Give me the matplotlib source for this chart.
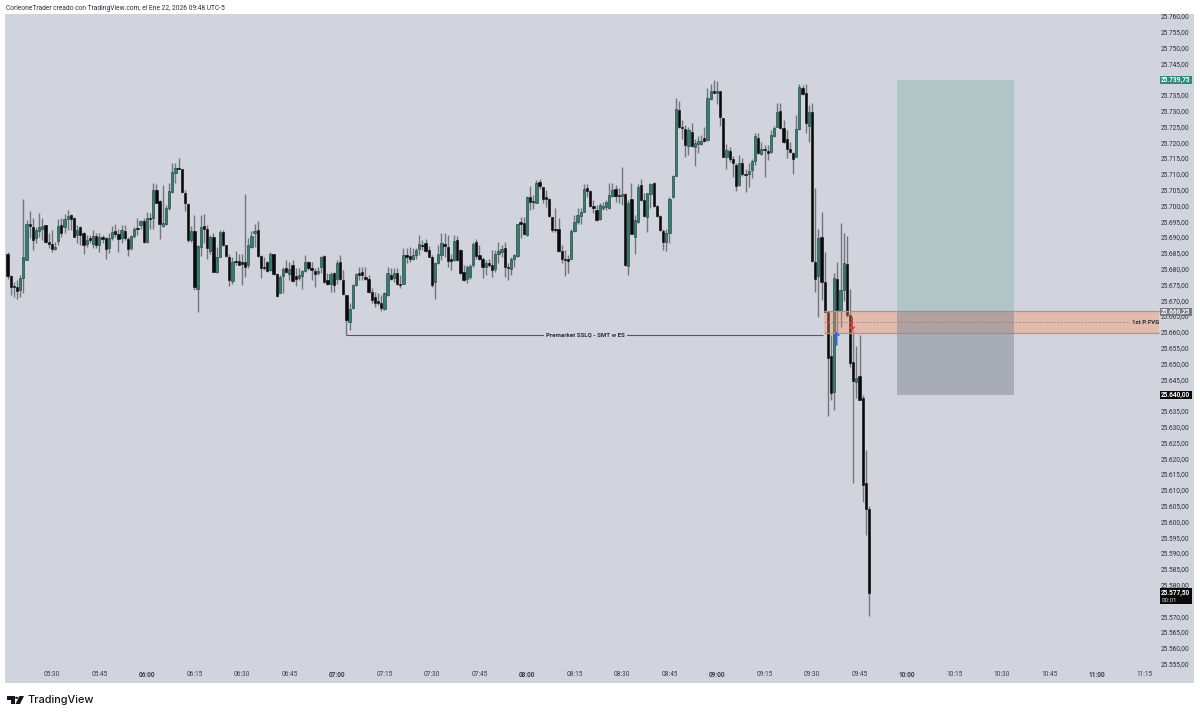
import numpy as np
import matplotlib
matplotlib.use('Agg')
import matplotlib.pyplot as plt
from matplotlib.patches import Rectangle, Polygon

plt.rcParams['font.family'] = ['Roboto', 'DejaVu Sans']

# one minute candles from 05:16 to 09:48, prices are base_price + value
base_price = 25600
opens = [
    84.8,77.7,74.5,74.3,73.4,77.2,82.9,94.3,93.1,89.6,
    92,92.7,93.7,88.3,87.8,86.2,88.8,93.9,93.1,95.8,
    96.9,96,90.6,93.1,91.2,87.8,89.8,87.8,90.3,87.4,
    89.9,89.6,86.6,89.6,91.8,90.9,89.8,92,89.5,86.6,
    90.3,93,93.8,95,88.4,96.2,95.9,104.9,101.3,93.5,
    94.3,99.1,104.3,110.2,111.8,111.6,104,100.4,89,92,
    73.7,86.9,93.5,92.7,85.6,90.1,79,83.8,91.5,87.5,
    83.8,76.2,82.5,82.5,82.2,82,81.3,86.9,91.4,92.2,
    84.1,80.6,82,79.6,84.6,78.2,72.4,77.7,80.2,78.2,
    81.1,77.7,77.2,77.7,79.3,82.2,80.2,79.3,78.7,80.6,
    84.1,76.4,75.1,78.5,76.6,82,76.4,71.6,63.2,67.6,
    74.8,78.5,79,77.4,76.6,72.5,71.1,69.7,69.3,67.2,
    71.6,78,77.2,78.5,75.3,75.3,84.3,84.1,83,84.3,
    86.1,87.5,88,85.9,83.6,75.9,81.7,84.3,87.7,86.9,
    83.2,82.7,89,85.9,79.1,76.7,77.4,81.1,88.5,84.3,
    83,80.4,81.9,81.2,79.8,84.6,85.2,86.4,80.6,79.8,
    83,84,94.8,94.5,90.6,102.8,101.3,100.9,107.3,105.7,
    102.8,102.2,96.4,92.7,92.7,85.7,83.2,83,83.2,91.9,
    94.8,96.6,98,105.4,104.7,99.8,98.5,95.6,99.3,99.6,
    99.1,103,105.1,103.3,103.1,103.5,80.8,102.2,90.1,94.8,
    106.5,101.7,96.4,103.6,107.2,99.9,96.6,91.9,88.5,91.2,
    102.8,109.4,130.2,124.9,124.2,118.8,123.3,118.6,119.4,119.6,
    121.4,120.7,133.6,136.3,135.7,136.2,127.6,115.2,117.3,114.6,
    112.8,106.5,113.3,110,110.1,111.2,114.2,121.4,116.3,117.8,
    117.3,116.8,122.1,124.7,129.9,124.4,120.9,117.8,116.5,115.4,
    124.1,137.1,135.5,125.1,129.7,82.2,77.7,89.9,75.9,66.2,
    52.4,41,76.6,66.7,73.2,81.4,65.3,50.5,44.2,46.1,39.1,12.2,3.9,
]
closes = [
    77.7,74.3,74.1,73,77.2,83.6,94.1,93.5,89,92.2,
    93.1,93.5,88.3,87.8,86.2,86.9,93.5,91.2,95.7,96.6,
    95.8,90.1,92.4,90.7,87.5,89,89,90.3,87.4,89.9,
    89.5,86.2,89.6,91.7,91,89.5,92.2,89.6,86.2,90.3,
    92.5,92.6,95,88.4,96.2,95.7,104.9,100.9,94.3,94.5,
    99.3,104.6,110.5,112,111.4,104.3,100.7,89,92,74.1,
    87.3,93.1,92.6,86.7,90.1,79,83.6,91.7,87.5,84,
    76.4,82.1,82.1,81.3,81.5,80.4,87.6,90.3,91.9,84.1,
    80.3,80.1,79.3,84.8,78.2,71.4,77.4,79.8,79,80,
    76.2,76.6,78,79.3,82.1,80.3,79.6,78.3,79.3,83.8,
    75.9,75.1,78.2,74.8,81.7,76.6,71.9,63.7,67.4,74.8,
    78.2,78,78,76.9,72.5,70.1,69,69,67.6,72.2,
    78.5,76.9,78.5,75.3,75,84.3,83.8,83,84.3,85.9,
    87.7,87.2,85.7,83.8,74.8,81.7,84.6,88,87.2,82.4,
    82.4,88.7,82.7,78.7,76.4,80.6,80.8,87.7,84,83.2,
    80.4,81.9,81.1,79.6,84.8,85.7,86.3,80.6,80.1,83,
    84.3,94.1,94.3,91,102.8,101.2,101,107.2,106.1,102.2,
    102.2,96.6,92.2,92.2,85.7,83,82.7,82.4,91.9,94.8,
    97,98,105.1,104.7,99.8,99.1,95.4,100.1,99.8,101.2,
    103.3,104.9,103,103,103.5,81.1,100.9,91,95.4,105.7,
    101.7,96.6,103.8,106.8,99.9,96.6,92.2,88.5,91.4,102.2,
    109.4,130.4,124.7,124.4,119.1,123.9,118.8,119.9,120.4,120.4,
    120.5,133.9,136.2,135.7,136.3,127.9,115.4,117.5,114.6,113.3,
    106.2,113.6,110,109.5,111,114.1,122,116.5,117.8,117.5,
    116.7,122.3,124.6,129.7,124.4,120.2,117.9,116.8,114.6,124.1,
    137.4,135.3,126,129.7,82.5,76.9,89.6,75.9,66.4,51.9,
    40.7,77.1,66.9,73.2,81.7,65.3,50.3,44.4,45.5,38.6,11.5,3.9,-22.5,
]
highs = [
    85.4,78,75.9,76.4,78,102.2,95.4,98.2,95.9,93.1,
    97.7,95.9,93.7,91.2,92.4,88.5,95.6,95.9,97.3,98.5,
    97.3,96.4,93.8,93.5,91.7,90.6,90.8,92.2,91.2,91.2,
    90.6,90.1,91.2,93.5,94.3,92.7,93.8,93.8,90.1,90.6,
    93.1,96.2,95.4,95.9,98,97.5,107,106.7,101.7,106.5,
    100.1,107,113.3,113.5,114.9,111.7,104.9,100.7,93.5,97,
    87.5,97,97.3,93.8,90.6,91.2,86.9,92.2,92.2,87.5,
    84.8,83.8,85.7,84.8,84.8,103.5,89.6,92,94.3,95,
    84.3,83.8,82.5,85.4,84.8,78.5,78,80.6,82.7,82.2,
    82.7,80.1,80.1,79.6,84.3,82.5,82.2,80.1,80.6,84,
    84.3,78.7,79,79,82.7,84.3,79.6,71.6,69,75.1,
    78.5,80.6,80.4,80.6,78,73.8,72.7,72.2,71.6,72.7,
    80.4,80.1,80.1,80.1,78,86.4,86.4,87,86.4,86.7,
    90.6,89.1,89.4,87.2,84.3,82.2,87.5,91.4,91.2,90.6,
    84.8,90.6,90.3,86.1,81.1,81.1,81.5,88.5,89.3,87.5,
    83.8,82.7,83.2,85.9,85.9,88.5,87.5,88.5,81.7,83.8,
    84.8,94.3,96.4,96.4,103,106.1,103.3,108,108.3,105.9,
    104.9,102.5,96.4,99.1,95.9,87.5,85.9,84.3,92.7,97,
    99.1,99.1,106.8,106.8,104.9,101.7,100.1,100.7,101.2,101.7,
    107,107.2,106.5,105.4,112.3,103.8,101.7,107,97,106.8,
    108.3,103.8,103.8,107.2,107.5,100.1,97,92.7,92.7,102.8,
    109.6,133.9,133.1,127,125.4,124.9,126.2,121.2,122,122.3,
    124.7,137.1,138.3,139.7,139.4,136.3,127.8,119.4,118.4,115.6,
    113.3,116,114.9,111.4,113.5,114.6,122.8,122.8,120.2,119.1,
    119.1,123.9,125.1,132.3,132.5,127,123.9,120.2,117,128.6,
    138.3,138.1,138.3,131.8,132.3,105.5,92.7,98,85.4,66.4,
    59,78.5,82.2,94.5,91.4,90.3,73.7,60.6,55.5,59,40,22.6,4.9,
]
lows = [
    76.9,71.6,71.1,70.4,71.1,72.2,82.7,89.6,85.9,88,
    90.1,89,88,86.4,85.4,85.9,87.5,90.1,91.2,92.2,
    92.2,90.1,88,87.5,84.6,86.9,88,86.4,86.7,85.4,
    88,83,85.1,89,90.1,85.4,88,89,84.1,85.9,
    89.6,90.6,92.7,88,88,92.7,92.7,100.7,89.3,93.1,
    93.8,98.5,104,107,111.4,104,98.3,88.5,88.5,73.2,
    66.2,84.1,88,83.2,84.8,79,78.7,83.6,87.2,83.8,
    74.6,75.3,81.1,81.1,75,77.4,80.1,86.4,86.9,83.8,
    77.2,79.6,79,79.3,78,70.9,72.2,72.2,78.5,76.4,
    75.9,74.5,76.4,73.7,79,79.6,76.4,74.3,78,78.7,
    75.5,74.8,72.7,72.7,75.1,76.4,71.6,59.1,60.6,67.4,
    74.5,76.4,76.4,76.4,72.2,69,68,68.5,66.7,66.9,
    71.3,76.4,75.9,74.8,73.8,75.1,81.7,82.2,82.7,83.2,
    84.3,85.9,85.4,83.6,74.3,70.3,81.5,82.7,83.8,80.6,
    79.6,82.4,82.5,78.3,76.2,75.5,76.9,80.4,83.2,82.7,
    77.2,78,80.6,77.4,79,81.7,83.8,77.4,76.4,78,
    80.6,83.8,89.6,90.6,90.3,98.5,98.8,100.7,105.1,100.7,
    99.6,96.4,91.7,91.7,85.4,81.7,77.7,78.5,83,91.7,
    94.3,94.3,97.8,102.8,99.6,97.5,95.1,95.4,98.5,98.5,
    98.8,102.8,101.2,100.7,100.1,80.8,78,91,84.6,94.5,
    101.5,96.4,91.5,99.1,99.6,96.4,92,85.9,85.7,88,
    102.5,109.3,124.4,121.2,115.4,116,118.6,112.5,116.7,119.1,
    120.2,120.5,133.4,135.7,132,125.1,115.2,111.7,113.8,109.1,
    104.7,106.2,109.3,104.4,105.9,108.6,112.8,116.3,116,109.1,
    114.4,116.5,121.8,124.7,124.1,119.9,114.9,116.5,110.1,115.2,
    123.9,135,122.8,120.2,82.2,72.7,64.6,70.1,66.4,33.3,
    38.4,35.2,60,61.6,69.8,64.8,49,12.1,39,38.4,6.2,-4.3,-29.9,
]

time_labels = ['05:30','05:45','06:00','06:15','06:30','06:45','07:00','07:15','07:30','07:45',
               '08:00','08:15','08:30','08:45','09:00','09:15','09:30','09:45','10:00','10:15',
               '10:30','10:45','11:00','11:15']
first_tick = 14   # 05:30 is 14 bars after the first candle

# levels drawn on the chart
target_price = 25739.75
entry_price = 25666.25
stop_price = 25640.00
last_price = 25577.50
fvg_top = 25666.6
fvg_bottom = 25659.6
sslq_price = 25659.1
hidden_ticks = [25575, 25640, 25740]   # these sit under the price tags

bg = '#d1d4dc'
up_col = '#2f7f74'
down_col = '#0a0a0a'
wick_col = '#72757e'
text_col = '#2a2e39'


def price_fmt(p):
    # 25739.75 -> 25.739,75
    return f'{p:,.2f}'.replace(',', 'X').replace('.', ',').replace('X', '.')


o = base_price + np.array(opens)
c = base_price + np.array(closes)
h = base_price + np.array(highs)
l = base_price + np.array(lows)
x = np.arange(len(o))

fig = plt.figure(figsize=(12, 7.16), dpi=100, facecolor='white')
ax = fig.add_axes([5/1200, 1-683/716, 1189/1200, 669/716], facecolor=bg)
ax.set_xlim(-0.79, 374.6)
ax.set_ylim(25548.9, 25760.6)
for s in ax.spines.values():
    s.set_visible(False)

ax.vlines(x, l, h, color=wick_col, lw=1.0, zorder=2)
up = c >= o
ax.bar(x[up], np.abs(c-o)[up], bottom=np.minimum(o, c)[up], width=0.72,
       color=up_col, edgecolor='#1d3b3a', lw=0.4, zorder=3)
ax.bar(x[~up], np.abs(c-o)[~up], bottom=np.minimum(o, c)[~up], width=0.72,
       color=down_col, edgecolor=down_col, lw=0.4, zorder=3)

# fair value gap
fvg_x0, fvg_x1 = 257.9, 363.4
ax.add_patch(Rectangle((fvg_x0, fvg_bottom), fvg_x1-fvg_x0, fvg_top-fvg_bottom,
                       fc='#fb8f5f', alpha=0.36, ec='none', zorder=4))
ax.hlines([fvg_top, fvg_bottom], fvg_x0, fvg_x1, color='#b09486', lw=0.9, zorder=4)
ax.hlines((fvg_top+fvg_bottom)/2, fvg_x0, 354.4, color='#a08070', lw=0.5, ls=(0, (3, 2)), zorder=4)
ax.text(359.2, (fvg_top+fvg_bottom)/2, '1st P.FVG', fontsize=4.4, fontweight='bold',
        color=text_col, ha='center', va='center', zorder=7)

# long position box
box_x0, box_x1 = 280.9, 317.8
ax.add_patch(Rectangle((box_x0, entry_price), box_x1-box_x0, target_price-entry_price,
                       fc='#559c8c', alpha=0.25, ec='none', zorder=5))
ax.add_patch(Rectangle((box_x0, stop_price), box_x1-box_x0, entry_price-stop_price,
                       fc='#818694', alpha=0.5, ec='none', zorder=5))

# premarket level
ax.hlines(sslq_price, 107, 257.5, color='#55585f', lw=0.8, zorder=2)
ax.text(182.5, sslq_price, 'Premarket SSLQ - SMT w ES', fontsize=4.4, fontweight='bold',
        color=text_col, ha='center', va='center', zorder=3,
        bbox=dict(fc=bg, ec='none', pad=1.5))

# entry and exit arrows
ax.annotate('', xy=(261.8, 25660), xytext=(261.8, 25655.8),
            arrowprops=dict(arrowstyle='->,head_width=0.16,head_length=0.18', color='#2962ff',
                            lw=1.1, shrinkA=0, shrinkB=0), zorder=8)
ax.annotate('', xy=(266.7, 25660.4), xytext=(266.7, 25664.6),
            arrowprops=dict(arrowstyle='->,head_width=0.16,head_length=0.18', color='#f23645',
                            lw=1.1, shrinkA=0, shrinkB=0), zorder=8)

# axes labels sit inside the pane
yt = [p for p in np.arange(25555, 25765, 5) if p not in hidden_ticks]
ax.yaxis.tick_right()
ax.set_yticks(yt)
ax.set_yticklabels([price_fmt(p) for p in yt], ha='right')
ax.tick_params(axis='y', direction='in', length=0, pad=-3, labelsize=4.7, labelcolor=text_col)

xt = first_tick + 15*np.arange(len(time_labels))
ax.set_xticks(xt)
ax.set_xticklabels(time_labels)
ax.tick_params(axis='x', direction='in', length=0, pad=-8.5, labelsize=4.7, labelcolor='#3a3e49')
for lab, t in zip(ax.get_xticklabels(), time_labels):
    if t.endswith(':00'):
        lab.set_fontweight('bold')

# price tags on the scale
trans = ax.get_yaxis_transform()
tag_x0, tag_x1 = 0.9710, 0.9983


def price_tag(price, col, sub=None):
    ht = 2.7
    top = price + ht/2
    bottom = price - ht/2
    if sub:
        bottom = price - 3.7
    ax.add_patch(Rectangle((tag_x0, bottom), tag_x1-tag_x0, top-bottom, transform=trans,
                           fc=col, ec='none', zorder=9))
    ax.text(0.9965, price, price_fmt(price), transform=trans, ha='right', va='center',
            fontsize=4.7, fontweight='bold', color='white', zorder=10)
    if sub:
        ax.text(0.9725, price-2.6, sub, transform=trans, ha='left', va='center',
                fontsize=4.5, color='#d8d8d8', zorder=10)


price_tag(target_price, '#2f8a7a')
price_tag(entry_price, '#787b86')
price_tag(stop_price, '#0a0a0a')
price_tag(last_price, '#0a0a0a', sub='00:01')

fig.text(6/1200, 1-8/716, 'CorleoneTrader creado con TradingView.com, el Ene 22, 2026 09:48 UTC-5',
         fontsize=4.75, color=text_col, ha='left', va='center')

# footer logo
def px(pts):
    return [(a/1200, 1-b/716) for a, b in pts]


logo_col = '#131722'
fig.add_artist(Polygon(px([(7, 696), (14.5, 696), (14.5, 704), (11, 704), (11, 699.5), (7, 699.5)]),
                       closed=True, fc=logo_col, ec='none', transform=fig.transFigure))
fig.add_artist(Polygon(px([(19.5, 696), (24, 696), (20, 704), (15.5, 704)]),
                       closed=True, fc=logo_col, ec='none', transform=fig.transFigure))
fig.add_artist(plt.Circle((16.7/1200, 1-697.8/716), 1.7/1200, fc=logo_col, ec='none', transform=fig.transFigure))
fig.text(27/1200, 1-700/716, 'TradingView', fontsize=7.9, color=logo_col, family='Inter',
         fontweight='medium', ha='left', va='center')

fig.savefig('out.png', dpi=100, facecolor='white')
